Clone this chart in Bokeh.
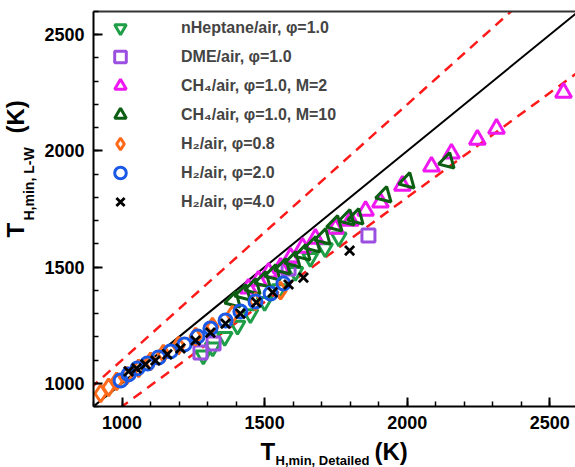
import math
from bokeh.plotting import figure
from bokeh.layouts import row, column
from bokeh.models import (Range1d, SingleIntervalTicker, FixedTicker, Legend, LegendItem,
                          LinearAxis)
from bokeh.core.properties import value
from bokeh.embed import file_html
from bokeh.resources import INLINE

# ---------------- data ----------------
hep_x = [1285, 1318, 1360, 1405, 1450, 1500, 1552, 1608, 1660, 1712, 1760]
hep_y = [1120, 1155, 1200, 1248, 1298, 1350, 1405, 1480, 1540, 1582, 1628]

dme_x = [1275, 1321, 1584, 1864]
dme_y = [1132, 1171, 1494, 1636]

ch4m2_x = [1443, 1478, 1514, 1556, 1591, 1633, 1678, 1748, 1801, 1854, 1906,
           1983, 2085, 2155, 2246, 2313, 2548]
ch4m2_y = [1408, 1442, 1477, 1498, 1541, 1584, 1623, 1666, 1700, 1743, 1778,
           1851, 1933, 1989, 2049, 2096, 2251]

ch4m10_x = [1391, 1426, 1461, 1496, 1531, 1566, 1601, 1636, 1671, 1706, 1748,
            1791, 1822, 1920, 2001, 2141]
ch4m10_y = [1356, 1386, 1412, 1442, 1472, 1498, 1528, 1558, 1593, 1627, 1683,
            1709, 1713, 1808, 1868, 1954]

h2_08_x = [925, 953, 981, 1016, 1058, 1100, 1145, 1198, 1258, 1317, 1387, 1468, 1556]
h2_08_y = [956, 982, 1008, 1033, 1064, 1094, 1128, 1162, 1201, 1244, 1296, 1352, 1399]

h2_20_x = [995, 1023, 1054, 1089, 1128, 1170, 1219, 1265, 1310, 1363, 1415, 1468, 1521, 1566]
h2_20_y = [1012, 1038, 1064, 1085, 1111, 1137, 1167, 1201, 1236, 1270, 1309, 1352, 1386, 1429]

h2_40_x = [1023, 1051, 1082, 1117, 1159, 1205, 1258, 1310, 1363, 1415, 1471, 1528, 1584, 1636, 1798]
h2_40_y = [1051, 1064, 1081, 1098, 1124, 1150, 1184, 1218, 1257, 1300, 1348, 1391, 1425, 1455, 1571]

labels = ["nHeptane/air, \u03c6=1.0", "DME/air, \u03c6=1.0",
          "CH\u2084/air, \u03c6=1.0, M=2", "CH\u2084/air, \u03c6=1.0, M=10",
          "H\u2082/air, \u03c6=0.8", "H\u2082/air, \u03c6=2.0", "H\u2082/air, \u03c6=4.0"]

guide_x = [800, 2700]
guide_ratio = [1.0, 1.1, 0.9]

tick_interval = 500
FONT = "Liberation Sans"

# ---------------- main figure ----------------
p = figure(width=537, height=436, output_backend="svg", toolbar_location=None,
           x_range=Range1d(900, 2590), y_range=Range1d(900, 2600),
           min_border_left=55, min_border_right=0, min_border_top=11,
           min_border_bottom=30, background_fill_color="white",
           border_fill_color="white", frame_align=False)
p.outline_line_color = None
p.grid.visible = False

for ax in (p.xaxis[0], p.yaxis[0]):
    ax.ticker = SingleIntervalTicker(interval=tick_interval, num_minor_ticks=5)
    ax.axis_line_color = "black"
    ax.axis_line_width = 2
    ax.major_tick_in = 9
    ax.major_tick_out = 0
    ax.minor_tick_in = 5
    ax.minor_tick_out = 0
    ax.major_tick_line_width = 2
    ax.minor_tick_line_width = 1.5
    ax.major_tick_line_color = "black"
    ax.minor_tick_line_color = "black"
    ax.major_label_text_font = FONT
    ax.major_label_text_font_style = "bold"
    ax.major_label_text_font_size = "18px"
    ax.major_label_text_color = "black"
    ax.major_label_standoff = 9

top_axis = LinearAxis(ticker=FixedTicker(ticks=[], minor_ticks=[]),
                      major_label_text_font_size="0px", major_label_standoff=0,
                      major_tick_in=0, major_tick_out=0, minor_tick_in=0,
                      minor_tick_out=0, axis_line_color="#333333", axis_line_width=2)
p.add_layout(top_axis, "above")

# guide lines
p.line(guide_x, [v * guide_ratio[1] for v in guide_x], line_color="#ff1a1a",
       line_width=2.5, line_dash="10 7")
p.line(guide_x, [v * guide_ratio[2] for v in guide_x], line_color="#ff1a1a",
       line_width=2.5, line_dash="10 7")
p.line(guide_x, [v * guide_ratio[0] for v in guide_x], line_color="black", line_width=2)

LW = 3
r_hep = p.scatter(hep_x, hep_y, marker="inverted_triangle", size=15, fill_color=None,
                  line_color="#1f9e48", line_width=LW)
r_dme = p.scatter(dme_x, dme_y, marker="square", size=13, fill_color=None,
                  line_color="#9b4fe0", line_width=LW)
r_m2 = p.scatter(ch4m2_x, ch4m2_y, marker="triangle", size=16, fill_color=None,
                 line_color="#f018f0", line_width=LW)
r_m10 = p.scatter(ch4m10_x, ch4m10_y, marker="triangle", size=16, fill_color=None,
                  line_color="#0b5e12", line_width=LW, angle=-0.25)
r_h08 = p.scatter(h2_08_x, h2_08_y, marker="diamond", size=17, fill_color=None,
                  line_color="#ff6a1a", line_width=LW)
r_h20 = p.scatter(h2_20_x, h2_20_y, marker="circle", size=13, fill_color=None,
                  line_color="#1a58e6", line_width=LW)
r_h40 = p.scatter(h2_40_x, h2_40_y, marker="x", size=13, line_color="black",
                  line_width=2.8)

rends = [r_hep, r_dme, r_m2, r_m10, r_h08, r_h20, r_h40]
legend = Legend(items=[LegendItem(label=l, renderers=[r]) for l, r in zip(labels, rends)],
                location="top_left", margin=2, padding=0, spacing=0,
                glyph_width=50, glyph_height=29, label_height=29, label_standoff=36,
                label_text_font=FONT, label_text_font_style="bold",
                label_text_font_size="16px", label_text_baseline="middle",
                background_fill_alpha=0, border_line_color=None)
p.add_layout(legend, "center")

# ---------------- axis titles (composed with subscripts) ----------------
def blank(w, h):
    f = figure(width=w, height=h, output_backend="svg", toolbar_location=None,
               x_range=Range1d(0, w), y_range=Range1d(0, h),
               x_axis_type=None, y_axis_type=None,
               min_border=0, min_border_left=0, min_border_right=0,
               min_border_top=0, min_border_bottom=0, frame_align=False,
               background_fill_color="white", border_fill_color="white")
    f.outline_line_color = None
    f.grid.visible = False
    return f

tstyle = dict(text_font=value(FONT), text_font_style="bold", text_color="black",
              text_baseline="alphabetic", text_align="left")

left = blank(38, 467)
left.text(x=[15], y=[230], text=["T"], text_font_size=value("24px"), angle=math.pi / 2, **tstyle)
left.text(x=[28], y=[247], text=["H,min, L-W"], text_font_size=value("14px"), angle=math.pi / 2, **tstyle)
left.text(x=[15], y=[334], text=["(K)"], text_font_size=value("24px"), angle=math.pi / 2, **tstyle)

bottom = blank(537, 31)
bottom.text(x=[222], y=[16], text=["T"], text_font_size=value("24px"), **tstyle)
bottom.text(x=[237], y=[7], text=["H,min, Detailed"], text_font_size=value("13px"), **tstyle)
bottom.text(x=[336], y=[16], text=["(K)"], text_font_size=value("24px"), **tstyle)

layout = row(left, column(p, bottom, spacing=0), spacing=0)

open("out.html", "w").write(file_html(layout, INLINE))
